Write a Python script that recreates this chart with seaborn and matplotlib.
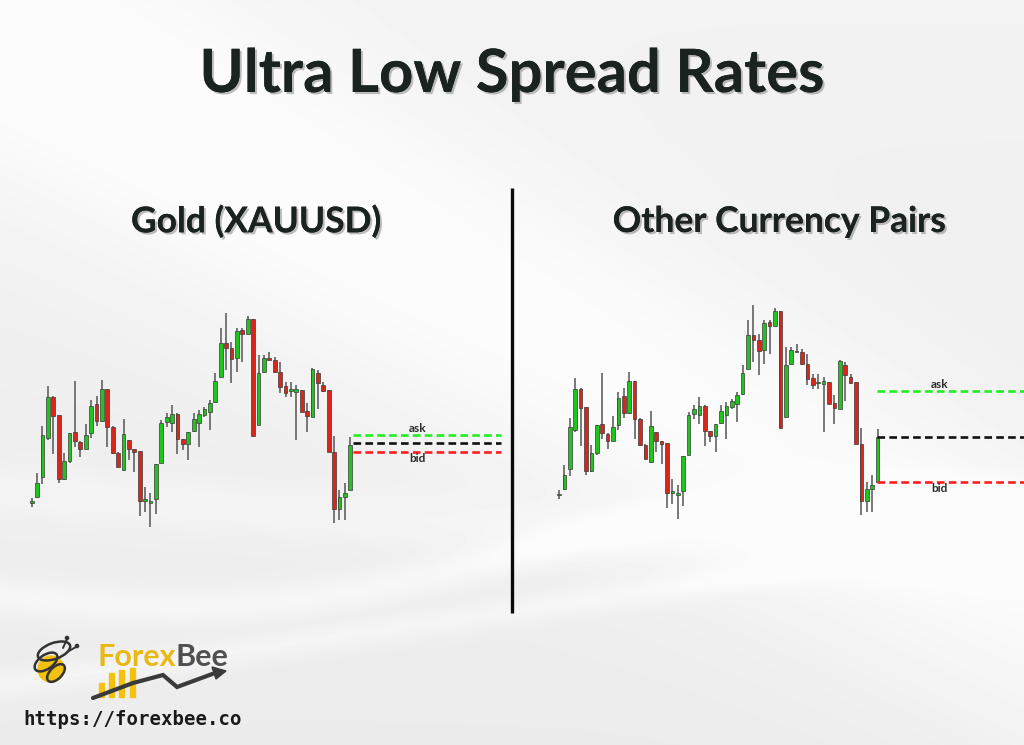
import numpy as np
import pandas as pd
import seaborn as sns
import matplotlib.pyplot as plt
from matplotlib import patheffects as pe
from matplotlib.patches import Circle, Ellipse, Rectangle, Polygon

# candle data (same price path drawn in both panels)
opens = [97, 103, 123, 162, 203, 185, 121, 139, 168, 158, 151, 167, 196, 179, 211,
         173, 147, 130, 160, 151, 149, 99, 97, 101, 137, 178, 177, 186, 161, 156,
         169, 177, 185, 188, 198, 223, 257, 252, 242, 270, 266, 281, 175, 228, 241,
         240, 228, 214, 209, 208, 210, 189, 183, 227, 215, 210, 148, 91, 103, 110]
highs = [102, 127, 174, 214, 204, 185, 147, 167, 219, 159, 176, 200, 204, 220, 211,
         174, 148, 181, 160, 151, 149, 113, 107, 136, 180, 187, 195, 187, 161, 168,
         187, 190, 193, 200, 227, 272, 287, 258, 272, 272, 284, 281, 245, 245, 248,
         243, 238, 218, 218, 215, 210, 197, 232, 230, 218, 210, 164, 110, 117, 163]
lows = [93, 102, 116, 160, 146, 117, 120, 137, 153, 143, 151, 162, 174, 178, 153,
        146, 133, 129, 140, 128, 84, 88, 73, 86, 137, 173, 168, 146, 150, 140,
        168, 153, 183, 170, 197, 223, 230, 217, 228, 238, 266, 164, 175, 227, 240,
        227, 207, 203, 203, 160, 188, 168, 183, 191, 208, 148, 77, 80, 80, 110]
closes = [98, 117, 165, 203, 184, 121, 139, 167, 159, 151, 165, 194, 179, 211, 173,
          147, 133, 166, 151, 148, 99, 101, 99, 136, 177, 183, 186, 161, 156, 168,
          181, 186, 191, 197, 219, 257, 252, 241, 269, 266, 281, 164, 227, 242, 240,
          228, 213, 207, 210, 211, 188, 184, 231, 217, 209, 148, 91, 103, 107, 155]

# spread levels for each panel
level_names = ['ask', 'mid', 'bid']
gold_levels = [165, 156.5, 148]
other_levels = [201, 155, 110]

GREEN = '#1fc41c'
RED = '#d9261a'
LEVEL_COLORS = {'ask': '#22ee22', 'mid': '#111111', 'bid': '#ff1f1f'}
DARK = '#1b2320'

df = pd.DataFrame({'open': opens, 'high': highs, 'low': lows, 'close': closes})
df['idx'] = np.arange(len(df))

W, H = 1024, 745
sns.set_style('white')
plt.rcParams['font.family'] = ['Lato', 'DejaVu Sans']
fig = plt.figure(figsize=(W / 100, H / 100), dpi=100)


def px_axes(x, y, w, h, **kw):
    return fig.add_axes([x / W, 1 - (y + h) / H, w / W, h / H], **kw)


# background: light grey with soft white sweeps
ax_bg = px_axes(0, 0, W, H)
yy, xx = np.mgrid[0:H, 0:W]
xn, yn = xx / W, yy / H
bg = 0.925 + 0.025 * (1 - yn)
bg += 0.05 * np.exp(-((yn - (0.05 + 0.75 * xn)) / 0.22) ** 2)
bg += 0.035 * np.exp(-((yn - (0.8 - 0.12 * xn + 0.04 * np.sin(6 * xn))) / 0.025) ** 2)
bg += 0.03 * np.exp(-((yn - (0.92 - 0.2 * xn)) / 0.018) ** 2)
bg += 0.02 * np.exp(-((yn - (0.66 + 0.1 * xn)) / 0.04) ** 2)
bg = np.clip(bg, 0, 0.985)
ax_bg.imshow(bg, cmap='gray', vmin=0, vmax=1, aspect='auto', extent=(0, W, H, 0))
ax_bg.set_xlim(0, W)
ax_bg.set_ylim(H, 0)
ax_bg.axis('off')


def draw_panel(ax, levels, line_start, line_end, label_x):
    up = df['close'] >= df['open']
    colors = np.where(up, GREEN, RED)
    ax.vlines(df['idx'], df['low'], df['high'], color='#555555', lw=1.1, zorder=1)
    bottom = df[['open', 'close']].min(axis=1)
    height = (df['close'] - df['open']).abs().clip(lower=1.5)
    ax.bar(df['idx'], height, bottom=bottom, width=0.7, color=colors,
           edgecolor='#3a3a3a', linewidth=0.5, zorder=2)
    lv = pd.DataFrame({'name': level_names, 'price': levels})
    for _, row in lv.iterrows():
        seg = pd.DataFrame({'x': [line_start, line_end], 'y': [row['price']] * 2})
        sns.lineplot(data=seg, x='x', y='y', ax=ax, color=LEVEL_COLORS[row['name']],
                     lw=1.9, dashes=(2.9, 1.6), zorder=3)
    ask = lv.loc[lv['name'] == 'ask', 'price'].iloc[0]
    bid = lv.loc[lv['name'] == 'bid', 'price'].iloc[0]
    ax.annotate('ask', (label_x, ask), xytext=(0, 0.5), textcoords='offset points',
                ha='center', va='bottom', fontsize=8.5, color='#2a2a2a', fontweight='bold')
    ax.annotate('bid', (label_x, bid), xytext=(0, -1), textcoords='offset points',
                ha='center', va='top', fontsize=8.5, color='#2a2a2a', fontweight='bold')
    ax.set_ylim(60, 310)
    ax.axis('off')


STEP = 5.4
ax_l = px_axes(20, 290, 490, 250)
draw_panel(ax_l, gold_levels, 59.45, 87.0, 71.4)
ax_l.set_xlim((20 - 31.7) / STEP, (510 - 31.7) / STEP)

ax_r = px_axes(547, 282, 477, 250)
draw_panel(ax_r, other_levels, 58.8, 100, 70.4)
ax_r.set_xlim((547 - 559) / STEP, (1024 - 559) / STEP)

# divider
ax_bg.plot([512, 512], [188, 613], color='#0a0a0a', lw=2.4, solid_capstyle='butt')

# titles
shadow = [pe.withSimplePatchShadow(offset=(1.5, -1.5), shadow_rgbFace='#888888', alpha=0.55), pe.Normal()]
fig.text(0.5, 1 - 75 / H, 'Ultra Low Spread Rates', ha='center', va='center',
         fontsize=43, fontweight='bold', color=DARK, path_effects=shadow)
fig.text(256 / W, 1 - 222 / H, 'Gold (XAUUSD)', ha='center', va='center',
         fontsize=25.5, fontweight='bold', color=DARK, path_effects=shadow)
fig.text(779 / W, 1 - 222 / H, 'Other Currency Pairs', ha='center', va='center',
         fontsize=25.5, fontweight='bold', color=DARK, path_effects=shadow)

# logo
ax_logo = px_axes(20, 630, 230, 110)
ax_logo.set_xlim(20, 250)
ax_logo.set_ylim(740, 630)
ax_logo.axis('off')
ax_logo.add_patch(Circle((51, 669), 13, color='#f2c20f', zorder=1))
ax_logo.add_patch(Ellipse((54, 651), 34, 16, angle=-20, fill=False, ec='#333333', lw=1.8, zorder=2))
ax_logo.add_patch(Ellipse((46, 662), 26, 14, angle=-35, fill=False, ec='#333333', lw=1.8, zorder=2))
ax_logo.add_patch(Ellipse((56, 673), 22, 12, angle=-45, fill=False, ec='#333333', lw=1.8, zorder=2))
ax_logo.plot([63, 67], [648, 639], color='#333333', lw=1.4)
ax_logo.plot([67, 76], [652, 647], color='#333333', lw=1.4)
ax_logo.add_patch(Circle((67, 638), 1.6, color='#333333'))
ax_logo.add_patch(Circle((77, 646), 1.6, color='#333333'))
forex = ax_logo.text(97, 657, 'Forex', ha='left', va='center', fontsize=22, fontweight='bold',
                     color='#e8b914')
ax_logo.annotate('Bee', xy=(1, 0), xycoords=forex, ha='left', va='bottom', fontsize=22,
                 fontweight='bold', color='#505050')
for bx, top in zip([99, 109, 119, 130], [683, 673, 670, 668]):
    ax_logo.add_patch(Rectangle((bx, top), 5, 697 - top, color='#f2c20f', zorder=1))
ax_logo.plot([93, 133, 163, 177, 215], [698, 683, 675, 687, 673], color='#3a3a3a', lw=3,
             solid_joinstyle='miter', zorder=2)
ax_logo.add_patch(Polygon([[226, 671], [212, 667], [216, 679]], color='#3a3a3a', zorder=2))
ax_logo.text(23, 719, 'https://forexbee.co', ha='left', va='center', fontsize=13.7,
             fontweight='bold', family='DejaVu Sans Mono', color='#1a1a1a')

fig.savefig('out.png', dpi=100)
